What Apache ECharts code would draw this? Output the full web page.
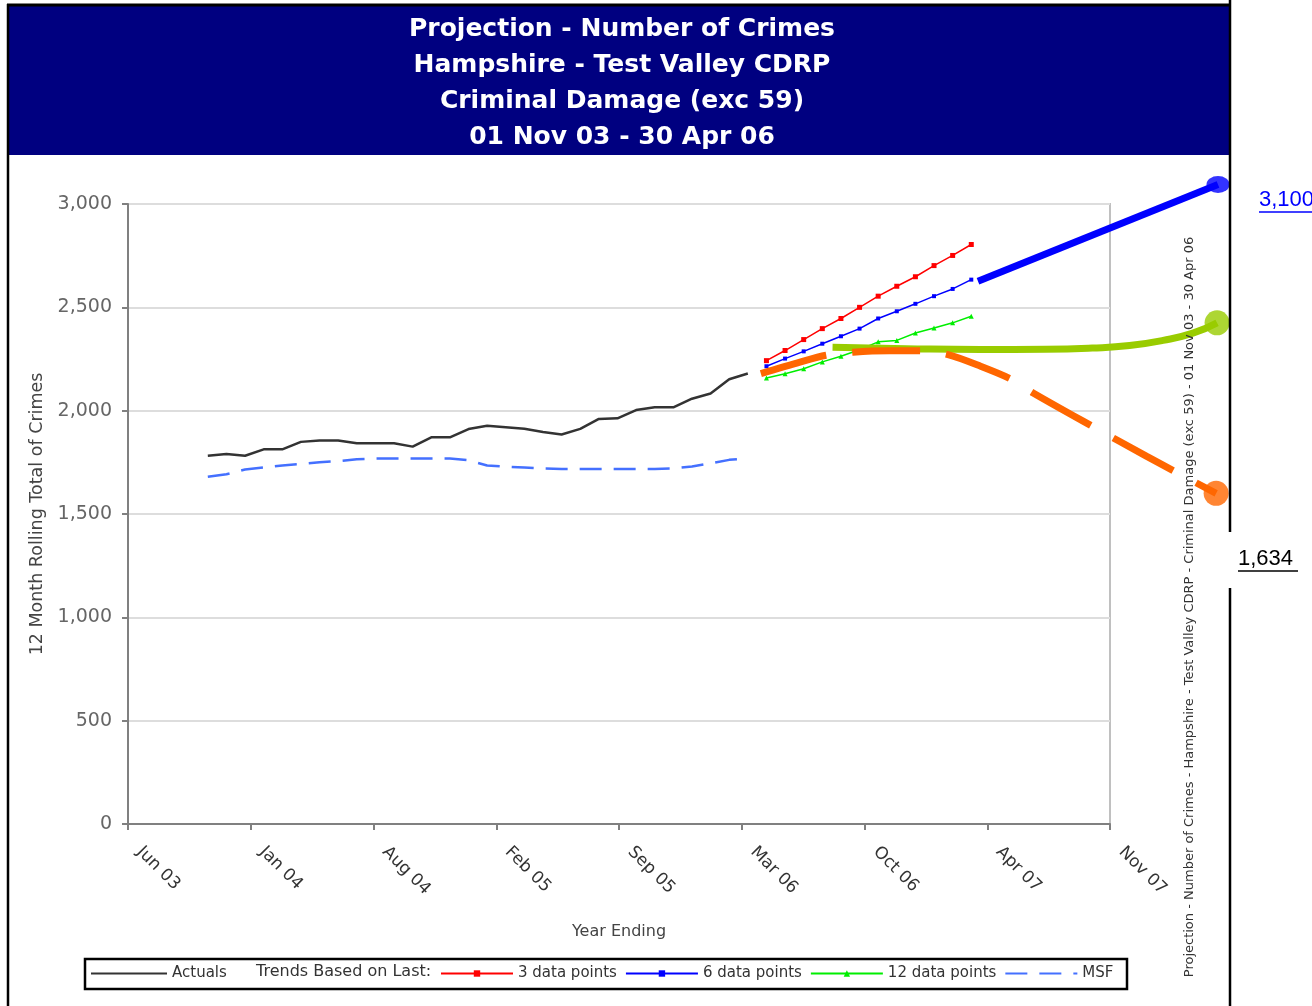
<!DOCTYPE html>
<html>
<head>
<meta charset="utf-8">
<style>
  html, body { margin: 0; padding: 0; background: #fff; }
  #chart { width: 1312px; height: 1006px; }
</style>
<script src="https://cdn.jsdelivr.net/npm/echarts@6/dist/echarts.min.js"></script>
</head>
<body>
<div id="chart"></div>
<script>
// ---------- data ----------
const titleLines = [
  'Projection - Number of Crimes',
  'Hampshire - Test Valley CDRP',
  'Criminal Damage (exc 59)',
  '01 Nov 03 - 30 Apr 06'
];
const xTickLabels = ['Jun 03', 'Jan 04', 'Aug 04', 'Feb 05', 'Sep 05', 'Mar 06', 'Oct 06', 'Apr 07', 'Nov 07'];

const actualMonths = ['Nov 03','Dec 03','Jan 04','Feb 04','Mar 04','Apr 04','May 04','Jun 04','Jul 04','Aug 04',
  'Sep 04','Oct 04','Nov 04','Dec 04','Jan 05','Feb 05','Mar 05','Apr 05','May 05','Jun 05',
  'Jul 05','Aug 05','Sep 05','Oct 05','Nov 05','Dec 05','Jan 06','Feb 06','Mar 06','Apr 06'];
const actuals = [1782, 1790, 1782, 1813, 1813, 1849, 1856, 1856, 1842, 1842,
  1842, 1826, 1871, 1871, 1911, 1927, 1920, 1913, 1897, 1885,
  1912, 1960, 1963, 2003, 2016, 2016, 2058, 2083, 2152, 2180];
const msf = [1680, 1692, 1715, 1725, 1735, 1742, 1750, 1756, 1765, 1768,
  1769, 1769, 1769, 1769, 1760, 1735, 1729, 1725, 1720, 1718,
  1718, 1718, 1718, 1718, 1718, 1720, 1730, 1745, 1762, 1769];

const trendMonths = ['May 06','Jun 06','Jul 06','Aug 06','Sep 06','Oct 06','Nov 06','Dec 06','Jan 07','Feb 07','Mar 07','Apr 07'];
const trend3 = [2242, 2291, 2344, 2397, 2446, 2500, 2554, 2602, 2648, 2702, 2751, 2804];
const trend6 = [2215, 2252, 2287, 2324, 2360, 2397, 2446, 2481, 2517, 2554, 2589, 2634];
const trend12 = [2158, 2179, 2203, 2236, 2263, 2295, 2333, 2340, 2376, 2400, 2425, 2457];

// projection annotation lines (x in months counted from Jan 2003)
const projBlueMonths = [51.36, 64.25];
const projBlueVals = [2626, 3094];
const projGreenMonths = [43.55, 47.5, 51.5, 55.0, 57.5, 59.5, 61.3, 62.9, 64.2];
const projGreenVals = [2307, 2300, 2296, 2297, 2303, 2315, 2340, 2375, 2425];
const projOrangeMonths = [39.7, 41.8, 43.2, 44.65, 46.6, 48.25, 49.75, 51.5, 53.2, 54.3, 57.55, 60.4, 62.05, 64.15];
const projOrangeVals = [2179, 2235, 2268, 2283, 2290, 2290, 2271, 2215, 2150, 2087, 1922, 1780, 1700, 1600];
const projLabels = ['3,100', '1,634'];
const sideText = 'Projection - Number of Crimes - Hampshire - Test Valley CDRP - Criminal Damage (exc 59) - 01 Nov 03 - 30 Apr 06';

// ---------- helpers ----------
const MON = {Jan:0,Feb:1,Mar:2,Apr:3,May:4,Jun:5,Jul:6,Aug:7,Sep:8,Oct:9,Nov:10,Dec:11};
function monthNum(lbl) { const p = lbl.split(' '); return (2000 + Number(p[1]) - 2003) * 12 + MON[p[0]]; }
const AXIS_ORIGIN = 5.714;   // month position of the first x tick
const TICK_STEP = 6.592;     // months between x ticks
const toX = m => m - AXIS_ORIGIN;
const pairs = (ms, vs, f) => ms.map((m, i) => [toX(f ? f(m) : m), vs[i]]);

// layout
const G_LEFT = 128, G_RIGHT = 202, G_TOP = 204, G_BOTTOM = 182, W = 1312;
const X_MAX = TICK_STEP * 8;
const PX_PER_UNIT = (W - G_LEFT - G_RIGHT) / X_MAX;
const G2_RIGHT = 82;  // wider, invisible grid (same scale) for annotation lines running past the plot
const X2_MAX = (W - G_LEFT - G2_RIGHT) / PX_PER_UNIT;

const FONT = 'DejaVu Sans';
const chart = echarts.init(document.getElementById('chart'), null, {renderer: 'canvas'});
const lastOf = a => a[a.length - 1];

chart.setOption({
  animation: false,
  backgroundColor: '#ffffff',
  title: {
    text: titleLines.join('\n'),
    left: 617, top: 6, textAlign: 'center',
    textStyle: { color: '#ffffff', fontFamily: FONT, fontWeight: 'bold', fontSize: 25, lineHeight: 36 },
    z: 10
  },
  grid: [
    { left: G_LEFT, right: G_RIGHT, top: G_TOP, bottom: G_BOTTOM, show: true, borderColor: '#c0c0c0', borderWidth: 2, backgroundColor: 'transparent' },
    { left: G_LEFT, right: G2_RIGHT, top: G_TOP, bottom: G_BOTTOM, show: false }
  ],
  xAxis: [{
    type: 'value', min: 0, max: X_MAX, interval: TICK_STEP,
    name: 'Year Ending', nameLocation: 'middle', nameGap: 100,
    nameTextStyle: { fontFamily: FONT, fontSize: 16, color: '#444' },
    axisLine: { show: true, lineStyle: { color: '#808080', width: 2 } },
    axisTick: { show: true, inside: false, length: 6, lineStyle: { color: '#808080', width: 2 } },
    splitLine: { show: false },
    axisLabel: {
      rotate: -45, margin: 14, padding: [0, 0, 0, 16], fontFamily: FONT, fontSize: 17, color: '#333',
      formatter: v => xTickLabels[Math.round(v / TICK_STEP)] || ''
    }
  }, {
    gridIndex: 1, type: 'value', min: 0, max: X2_MAX, show: false
  }],
  yAxis: [{
    type: 'value', min: 0, max: 3000, interval: 500,
    name: '12 Month Rolling Total of Crimes', nameLocation: 'middle', nameGap: 81, nameRotate: 90,
    nameTextStyle: { fontFamily: FONT, fontSize: 17.5, color: '#444' },
    axisLine: { show: true, lineStyle: { color: '#808080', width: 2 } },
    axisTick: { show: true, inside: false, length: 6, lineStyle: { color: '#808080', width: 2 } },
    splitLine: { show: true, lineStyle: { color: '#dddddd', width: 2 } },
    axisLabel: {
      margin: 16, fontFamily: FONT, fontSize: 19, color: '#666',
      formatter: v => v.toLocaleString('en-US')
    }
  }, {
    gridIndex: 1, type: 'value', min: 0, max: 3000, show: false
  }],
  legend: [
    {
      data: [{ name: 'Actuals', itemStyle: { opacity: 0 } }], left: 90, top: 966, padding: 0,
      itemWidth: 76, itemHeight: 8, itemGap: 10,
      textStyle: { fontFamily: FONT, fontSize: 15, color: '#333' }
    },
    {
      data: ['3 data points', '6 data points', '12 data points', { name: 'MSF', itemStyle: { opacity: 0 } }],
      left: 440, top: 966, padding: 0,
      itemWidth: 72, itemHeight: 8, itemGap: 8,
      textStyle: { fontFamily: FONT, fontSize: 15, color: '#333' }
    }
  ],
  graphic: [
    { type: 'rect', z: -10, shape: { x: 8, y: 5, width: 1222, height: 150 }, style: { fill: '#000080' } },
    { type: 'line', z: 20, shape: { x1: 7, y1: 5, x2: 1231, y2: 5 }, style: { stroke: '#000', lineWidth: 3 } },
    { type: 'line', z: 20, shape: { x1: 8, y1: 4, x2: 8, y2: 1006 }, style: { stroke: '#000', lineWidth: 2.5 } },
    { type: 'line', z: 20, shape: { x1: 1230, y1: 0, x2: 1230, y2: 532 }, style: { stroke: '#000', lineWidth: 2.5 } },
    { type: 'line', z: 20, shape: { x1: 1230, y1: 588, x2: 1230, y2: 1006 }, style: { stroke: '#000', lineWidth: 2.5 } },
    { type: 'rect', z: 5, shape: { x: 85, y: 959, width: 1042, height: 30 }, style: { fill: 'none', stroke: '#000', lineWidth: 2.5 } },
    { type: 'text', z: 6, left: 256, top: 964, style: { text: 'Trends Based on Last:', fontFamily: FONT, fontSize: 16, fill: '#333' } },
    { type: 'text', z: 6, left: 1259, top: 189, style: { text: projLabels[0], fontFamily: 'Liberation Sans', fontSize: 22, fill: '#0000ff' } },
    { type: 'line', z: 6, shape: { x1: 1259, y1: 212, x2: 1312, y2: 212 }, style: { stroke: '#0000ff', lineWidth: 1.5 } },
    { type: 'text', z: 6, left: 1238, top: 548, style: { text: projLabels[1], fontFamily: 'Liberation Sans', fontSize: 22, fill: '#000' } },
    { type: 'line', z: 6, shape: { x1: 1238, y1: 571, x2: 1298, y2: 571 }, style: { stroke: '#000', lineWidth: 1.5 } },
    { type: 'text', z: 6, x: 1190, y: 607, rotation: Math.PI / 2,
      style: { text: sideText, fontFamily: FONT, fontSize: 13, fill: '#333', align: 'center', verticalAlign: 'middle' } }
  ],
  series: [
    { name: 'MSF', type: 'line', data: pairs(actualMonths, msf, monthNum), symbol: 'none',
      lineStyle: { color: '#4470ff', width: 2.5, type: [22, 12] }, itemStyle: { color: '#4470ff' }, z: 2 },
    { name: 'Actuals', type: 'line', data: pairs(actualMonths, actuals, monthNum), symbol: 'none',
      lineStyle: { color: '#333333', width: 2.5 }, itemStyle: { color: '#333333' }, z: 3 },
    { name: '3 data points', type: 'line', data: pairs(trendMonths, trend3, monthNum), symbol: 'rect', symbolSize: 5,
      lineStyle: { color: '#ff0000', width: 1.5 }, itemStyle: { color: '#ff0000' }, z: 3 },
    { name: '6 data points', type: 'line', data: pairs(trendMonths, trend6, monthNum), symbol: 'rect', symbolSize: 4,
      lineStyle: { color: '#0000ff', width: 1.5 }, itemStyle: { color: '#0000ff' }, z: 3 },
    { name: '12 data points', type: 'line', data: pairs(trendMonths, trend12, monthNum), symbol: 'triangle', symbolSize: 5,
      lineStyle: { color: '#00ee00', width: 1.5 }, itemStyle: { color: '#00ee00' }, z: 3 },
    { name: 'projBlue', type: 'line', xAxisIndex: 1, yAxisIndex: 1, clip: false, data: pairs(projBlueMonths, projBlueVals), symbol: 'none',
      lineStyle: { color: '#0000ff', width: 7 }, z: 5 },
    { name: 'projGreen', type: 'line', xAxisIndex: 1, yAxisIndex: 1, clip: false, smooth: 0.5, data: pairs(projGreenMonths, projGreenVals), symbol: 'none',
      lineStyle: { color: '#99cc00', width: 7 }, z: 5 },
    { name: 'projOrange', type: 'line', xAxisIndex: 1, yAxisIndex: 1, clip: false, smooth: 0.3, data: pairs(projOrangeMonths, projOrangeVals), symbol: 'none',
      lineStyle: { color: '#ff6600', width: 7, type: [68, 26], cap: 'butt' }, z: 5 },
    { name: 'projEnds', type: 'scatter', xAxisIndex: 1, yAxisIndex: 1, clip: false, z: 6, silent: true,
      data: [
        { value: [toX(lastOf(projBlueMonths)), lastOf(projBlueVals)], symbolSize: [23, 17], itemStyle: { color: '#0000ff' } },
        { value: [toX(lastOf(projGreenMonths)), lastOf(projGreenVals)], symbolSize: 25, itemStyle: { color: '#99cc00' } },
        { value: [toX(lastOf(projOrangeMonths)), lastOf(projOrangeVals)], symbolSize: 25, itemStyle: { color: '#ff6600' } }
      ] }
  ]
});
</script>
</body>
</html>
